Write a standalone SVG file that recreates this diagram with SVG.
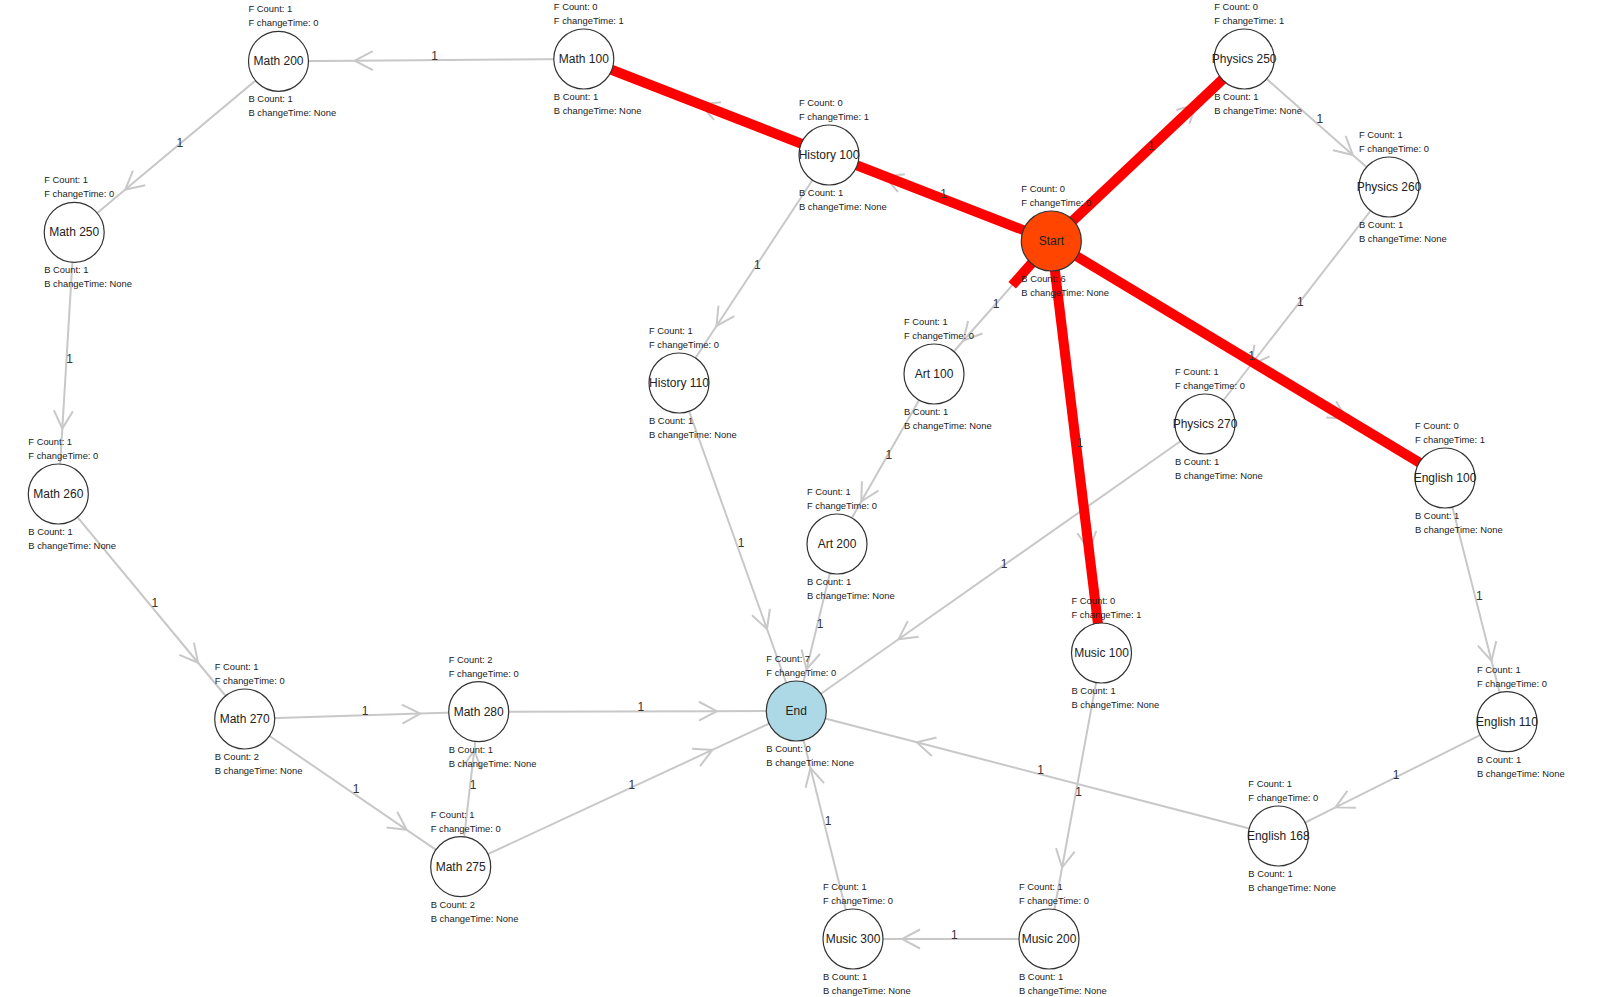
<svg xmlns="http://www.w3.org/2000/svg" width="1597" height="997" viewBox="0 0 1597 997">
<style>
.e{fill:none;stroke:#c8c8c8;stroke-width:2;marker-mid:url(#chev)}
.r{fill:none;stroke:#ff0000;stroke-width:10}
.el{font-family:"Liberation Sans",Arial,sans-serif;font-size:12px;fill:#333}
.n circle{fill:#fff;stroke:#333;stroke-width:1.2}
.n text{font-family:"Liberation Sans",Arial,sans-serif;fill:#222}
.n .s{font-size:9.4px}
.n .t{font-size:12px;text-anchor:middle}
</style>
<defs>
<marker id="chev" markerUnits="userSpaceOnUse" viewBox="-20 -12 22 24" markerWidth="22" markerHeight="24" refX="0" refY="0" orient="auto">
<path d="M-18,-9.5 L0,0 L-18,9.5" fill="none" stroke="#c8c8c8" stroke-width="2"/>
</marker>
</defs>
<rect width="1597" height="997" fill="#fff"/>
<g id="connectors">
<g id="edge-lines">
<path class="e" d="M1051.3,241 L700.7,104.5 L583.8,59"/>
<path class="e" d="M1051.3,241 L884.6,176.5 L829,155"/>
<path class="e" d="M1051.3,241 L1196,104.5 L1244.2,59"/>
<path class="e" d="M1051.3,241 L1346.6,418.75 L1445,478"/>
<path class="e" d="M1051.3,241 L1089,550 L1101.5,653"/>
<path class="e" d="M1051.3,241 L963.3,340.75 L934,374"/>
<path class="e" d="M583.8,59 L354.8,60.7 L278.5,61.3"/>
<path class="e" d="M278.5,61.3 L125.3,189.55 L74.2,232.3"/>
<path class="e" d="M74.2,232.3 L62.3,428.6 L58.3,494"/>
<path class="e" d="M58.3,494 L198.1,662.75 L244.7,719"/>
<path class="e" d="M244.7,719 L420.2,713.5 L478.7,711.7"/>
<path class="e" d="M244.7,719 L406.7,829.8 L460.7,866.7"/>
<path class="e" d="M460.7,866.7 L474.2,750.45 L478.7,711.7"/>
<path class="e" d="M478.7,711.7 L716.9,711.2 L796.3,711"/>
<path class="e" d="M460.7,866.7 L712.4,749.9 L796.3,711"/>
<path class="e" d="M829,155 L716.5,326 L679,383"/>
<path class="e" d="M679,383 L767,629 L796.3,711"/>
<path class="e" d="M934,374 L861.25,501.5 L837,544"/>
<path class="e" d="M837,544 L806.5,669.25 L796.3,711"/>
<path class="e" d="M1244.2,59 L1352.8,155 L1389,187"/>
<path class="e" d="M1389,187 L1251,364.75 L1205,424"/>
<path class="e" d="M1205,424 L898.5,639.25 L796.3,711"/>
<path class="e" d="M1445,478 L1491.5,660.8 L1507,721.7"/>
<path class="e" d="M1507,721.7 L1335.5,807.4 L1278.3,836"/>
<path class="e" d="M1278.3,836 L916.8,742.25 L796.3,711"/>
<path class="e" d="M1101.5,653 L1062.1,867.5 L1049,939"/>
<path class="e" d="M1049,939 L902,939 L853,939"/>
<path class="e" d="M853,939 L810.5,768 L796.3,711"/>
</g>
<g id="edge-highlights">
<path class="r" d="M1051.3,241 L583.8,59"/>
<path class="r" d="M1051.3,241 L1244.2,59"/>
<path class="r" d="M1051.3,241 L1445,478"/>
<path class="r" d="M1051.3,241 L1101.5,653"/>
<path class="r" d="M1051.3,241 L1012.2,285.3"/>
</g>
<g id="edge-labels">
<text class="el" x="940.2" y="198">1</text>
<text class="el" x="1147.8" y="150">1</text>
<text class="el" x="1248.2" y="359.5">1</text>
<text class="el" x="1076.4" y="447">1</text>
<text class="el" x="992.7" y="307.5">1</text>
<text class="el" x="431.2" y="60.2">1</text>
<text class="el" x="176.4" y="146.8">1</text>
<text class="el" x="66.25" y="363.2">1</text>
<text class="el" x="151.5" y="606.5">1</text>
<text class="el" x="361.7" y="715.35">1</text>
<text class="el" x="352.7" y="792.85">1</text>
<text class="el" x="469.7" y="789.2">1</text>
<text class="el" x="637.5" y="711.35">1</text>
<text class="el" x="628.5" y="788.85">1</text>
<text class="el" x="754" y="269">1</text>
<text class="el" x="737.65" y="547">1</text>
<text class="el" x="885.5" y="459">1</text>
<text class="el" x="816.65" y="627.5">1</text>
<text class="el" x="1316.6" y="123">1</text>
<text class="el" x="1297" y="305.5">1</text>
<text class="el" x="1000.65" y="567.5">1</text>
<text class="el" x="1476" y="599.85">1</text>
<text class="el" x="1392.65" y="778.85">1</text>
<text class="el" x="1037.3" y="773.5">1</text>
<text class="el" x="1075.25" y="796">1</text>
<text class="el" x="951" y="939">1</text>
<text class="el" x="824.65" y="825">1</text>
</g>
</g>
<g id="nodes">
<g id="n-math200" class="n"><circle cx="278.5" cy="61.3" r="30"/><text class="s" x="248.5" y="12.3">F Count: 1</text><text class="s" x="248.5" y="26.3">F changeTime: 0</text><text class="t" x="278.5" y="65.3">Math 200</text><text class="s" x="248.5" y="102.3">B Count: 1</text><text class="s" x="248.5" y="116.3">B changeTime: None</text></g>
<g id="n-math100" class="n"><circle cx="583.8" cy="59" r="30"/><text class="s" x="553.8" y="10">F Count: 0</text><text class="s" x="553.8" y="24">F changeTime: 1</text><text class="t" x="583.8" y="63">Math 100</text><text class="s" x="553.8" y="100">B Count: 1</text><text class="s" x="553.8" y="114">B changeTime: None</text></g>
<g id="n-history100" class="n"><circle cx="829" cy="155" r="30"/><text class="s" x="799" y="106">F Count: 0</text><text class="s" x="799" y="120">F changeTime: 1</text><text class="t" x="829" y="159">History 100</text><text class="s" x="799" y="196">B Count: 1</text><text class="s" x="799" y="210">B changeTime: None</text></g>
<g id="n-start" class="n"><circle cx="1051.3" cy="241" r="30" style="fill:#ff4500"/><text class="s" x="1021.3" y="192">F Count: 0</text><text class="s" x="1021.3" y="206">F changeTime: 0</text><text class="t" x="1051.3" y="245">Start</text><text class="s" x="1021.3" y="282">B Count: 6</text><text class="s" x="1021.3" y="296">B changeTime: None</text></g>
<g id="n-physics250" class="n"><circle cx="1244.2" cy="59" r="30"/><text class="s" x="1214.2" y="10">F Count: 0</text><text class="s" x="1214.2" y="24">F changeTime: 1</text><text class="t" x="1244.2" y="63">Physics 250</text><text class="s" x="1214.2" y="100">B Count: 1</text><text class="s" x="1214.2" y="114">B changeTime: None</text></g>
<g id="n-physics260" class="n"><circle cx="1389" cy="187" r="30"/><text class="s" x="1359" y="138">F Count: 1</text><text class="s" x="1359" y="152">F changeTime: 0</text><text class="t" x="1389" y="191">Physics 260</text><text class="s" x="1359" y="228">B Count: 1</text><text class="s" x="1359" y="242">B changeTime: None</text></g>
<g id="n-math250" class="n"><circle cx="74.2" cy="232.3" r="30"/><text class="s" x="44.2" y="183.3">F Count: 1</text><text class="s" x="44.2" y="197.3">F changeTime: 0</text><text class="t" x="74.2" y="236.3">Math 250</text><text class="s" x="44.2" y="273.3">B Count: 1</text><text class="s" x="44.2" y="287.3">B changeTime: None</text></g>
<g id="n-history110" class="n"><circle cx="679" cy="383" r="30"/><text class="s" x="649" y="334">F Count: 1</text><text class="s" x="649" y="348">F changeTime: 0</text><text class="t" x="679" y="387">History 110</text><text class="s" x="649" y="424">B Count: 1</text><text class="s" x="649" y="438">B changeTime: None</text></g>
<g id="n-art100" class="n"><circle cx="934" cy="374" r="30"/><text class="s" x="904" y="325">F Count: 1</text><text class="s" x="904" y="339">F changeTime: 0</text><text class="t" x="934" y="378">Art 100</text><text class="s" x="904" y="415">B Count: 1</text><text class="s" x="904" y="429">B changeTime: None</text></g>
<g id="n-physics270" class="n"><circle cx="1205" cy="424" r="30"/><text class="s" x="1175" y="375">F Count: 1</text><text class="s" x="1175" y="389">F changeTime: 0</text><text class="t" x="1205" y="428">Physics 270</text><text class="s" x="1175" y="465">B Count: 1</text><text class="s" x="1175" y="479">B changeTime: None</text></g>
<g id="n-english100" class="n"><circle cx="1445" cy="478" r="30"/><text class="s" x="1415" y="429">F Count: 0</text><text class="s" x="1415" y="443">F changeTime: 1</text><text class="t" x="1445" y="482">English 100</text><text class="s" x="1415" y="519">B Count: 1</text><text class="s" x="1415" y="533">B changeTime: None</text></g>
<g id="n-math260" class="n"><circle cx="58.3" cy="494" r="30"/><text class="s" x="28.3" y="445">F Count: 1</text><text class="s" x="28.3" y="459">F changeTime: 0</text><text class="t" x="58.3" y="498">Math 260</text><text class="s" x="28.3" y="535">B Count: 1</text><text class="s" x="28.3" y="549">B changeTime: None</text></g>
<g id="n-art200" class="n"><circle cx="837" cy="544" r="30"/><text class="s" x="807" y="495">F Count: 1</text><text class="s" x="807" y="509">F changeTime: 0</text><text class="t" x="837" y="548">Art 200</text><text class="s" x="807" y="585">B Count: 1</text><text class="s" x="807" y="599">B changeTime: None</text></g>
<g id="n-music100" class="n"><circle cx="1101.5" cy="653" r="30"/><text class="s" x="1071.5" y="604">F Count: 0</text><text class="s" x="1071.5" y="618">F changeTime: 1</text><text class="t" x="1101.5" y="657">Music 100</text><text class="s" x="1071.5" y="694">B Count: 1</text><text class="s" x="1071.5" y="708">B changeTime: None</text></g>
<g id="n-math270" class="n"><circle cx="244.7" cy="719" r="30"/><text class="s" x="214.7" y="670">F Count: 1</text><text class="s" x="214.7" y="684">F changeTime: 0</text><text class="t" x="244.7" y="723">Math 270</text><text class="s" x="214.7" y="760">B Count: 2</text><text class="s" x="214.7" y="774">B changeTime: None</text></g>
<g id="n-math280" class="n"><circle cx="478.7" cy="711.7" r="30"/><text class="s" x="448.7" y="662.7">F Count: 2</text><text class="s" x="448.7" y="676.7">F changeTime: 0</text><text class="t" x="478.7" y="715.7">Math 280</text><text class="s" x="448.7" y="752.7">B Count: 1</text><text class="s" x="448.7" y="766.7">B changeTime: None</text></g>
<g id="n-end" class="n"><circle cx="796.3" cy="711" r="30" style="fill:#add8e6"/><text class="s" x="766.3" y="662">F Count: 7</text><text class="s" x="766.3" y="676">F changeTime: 0</text><text class="t" x="796.3" y="715">End</text><text class="s" x="766.3" y="752">B Count: 0</text><text class="s" x="766.3" y="766">B changeTime: None</text></g>
<g id="n-english110" class="n"><circle cx="1507" cy="721.7" r="30"/><text class="s" x="1477" y="672.7">F Count: 1</text><text class="s" x="1477" y="686.7">F changeTime: 0</text><text class="t" x="1507" y="725.7">English 110</text><text class="s" x="1477" y="762.7">B Count: 1</text><text class="s" x="1477" y="776.7">B changeTime: None</text></g>
<g id="n-math275" class="n"><circle cx="460.7" cy="866.7" r="30"/><text class="s" x="430.7" y="817.7">F Count: 1</text><text class="s" x="430.7" y="831.7">F changeTime: 0</text><text class="t" x="460.7" y="870.7">Math 275</text><text class="s" x="430.7" y="907.7">B Count: 2</text><text class="s" x="430.7" y="921.7">B changeTime: None</text></g>
<g id="n-english168" class="n"><circle cx="1278.3" cy="836" r="30"/><text class="s" x="1248.3" y="787">F Count: 1</text><text class="s" x="1248.3" y="801">F changeTime: 0</text><text class="t" x="1278.3" y="840">English 168</text><text class="s" x="1248.3" y="877">B Count: 1</text><text class="s" x="1248.3" y="891">B changeTime: None</text></g>
<g id="n-music300" class="n"><circle cx="853" cy="939" r="30"/><text class="s" x="823" y="890">F Count: 1</text><text class="s" x="823" y="904">F changeTime: 0</text><text class="t" x="853" y="943">Music 300</text><text class="s" x="823" y="980">B Count: 1</text><text class="s" x="823" y="994">B changeTime: None</text></g>
<g id="n-music200" class="n"><circle cx="1049" cy="939" r="30"/><text class="s" x="1019" y="890">F Count: 1</text><text class="s" x="1019" y="904">F changeTime: 0</text><text class="t" x="1049" y="943">Music 200</text><text class="s" x="1019" y="980">B Count: 1</text><text class="s" x="1019" y="994">B changeTime: None</text></g>
</g>
</svg>
